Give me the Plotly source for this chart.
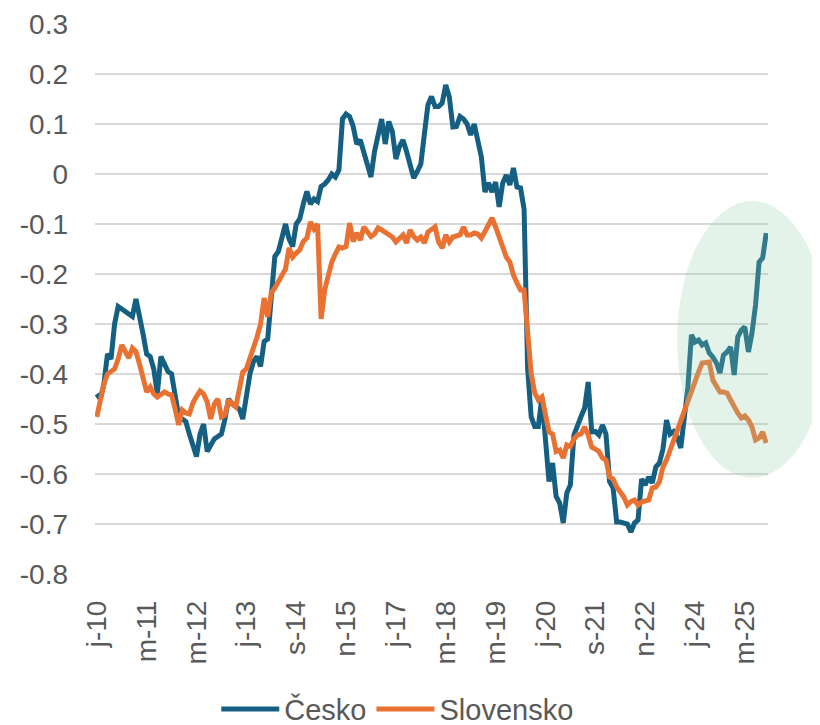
import pandas as pd
import plotly.graph_objects as go

# mesicni rada od ledna 2010
months = pd.date_range("2010-01-01", periods=189, freq="MS").strftime("%Y-%m").tolist()

tick_labels = ["j-10", "m-11", "m-12", "j-13", "s-14", "n-15", "j-17",
               "m-18", "m-19", "j-20", "s-21", "n-22", "j-24", "m-25"]

y_ticks = [0.3, 0.2, 0.1, 0.0, -0.1, -0.2, -0.3, -0.4, -0.5, -0.6, -0.7, -0.8]
y_tick_labels = ["0.3", "0.2", "0.1", "0", "-0.1", "-0.2", "-0.3", "-0.4",
                 "-0.5", "-0.6", "-0.7", "-0.8"]

cesko = [
    -0.44, -0.45, -0.42, -0.36, -0.37, -0.30, -0.265, -0.27, -0.275, -0.28,
    -0.285, -0.25, -0.28, -0.32, -0.36, -0.365, -0.39, -0.44, -0.365, -0.38,
    -0.395, -0.40, -0.44, -0.485, -0.49, -0.495, -0.52, -0.545, -0.565, -0.52,
    -0.50, -0.555, -0.54, -0.53, -0.525, -0.52, -0.49, -0.45, -0.46, -0.465,
    -0.47, -0.49, -0.44, -0.40, -0.375, -0.365, -0.385, -0.335, -0.33, -0.25,
    -0.165, -0.155, -0.13, -0.10, -0.13, -0.145, -0.10, -0.09, -0.06, -0.035,
    -0.06, -0.05, -0.055, -0.025, -0.02, -0.012, 0.0, -0.006, 0.008, 0.11,
    0.12, 0.115, 0.095, 0.06, 0.068, 0.045, 0.02, -0.006, 0.045, 0.08,
    0.11, 0.06, 0.105, 0.085, 0.03, 0.055, 0.068, 0.045, 0.02, -0.008,
    0.005, 0.02, 0.08, 0.138, 0.155, 0.135, 0.135, 0.142, 0.178, 0.154,
    0.094, 0.095, 0.115, 0.11, 0.10, 0.078, 0.10, 0.064, 0.034, -0.036,
    -0.018, -0.036, -0.016, -0.066, -0.018, -0.002, -0.022, 0.012, -0.026, -0.028,
    -0.07, -0.39, -0.486, -0.505, -0.505, -0.446, -0.53, -0.615, -0.578, -0.645,
    -0.658, -0.698, -0.638, -0.622, -0.522, -0.50, -0.485, -0.468, -0.416, -0.516,
    -0.515, -0.522, -0.502, -0.52, -0.615, -0.628, -0.696, -0.696, -0.698, -0.70,
    -0.716, -0.698, -0.692, -0.61, -0.622, -0.606, -0.618, -0.586, -0.578, -0.55,
    -0.492, -0.52, -0.515, -0.526, -0.548, -0.492, -0.426, -0.322, -0.336, -0.332,
    -0.342, -0.338, -0.358, -0.366, -0.378, -0.398, -0.362, -0.356, -0.346, -0.402,
    -0.326, -0.312, -0.306, -0.356, -0.318, -0.262, -0.176, -0.168, -0.118,
]

slovensko = [
    -0.486, -0.446, -0.42, -0.40, -0.395, -0.39, -0.37, -0.342, -0.355, -0.368,
    -0.348, -0.355, -0.38, -0.41, -0.436, -0.426, -0.44, -0.446, -0.44, -0.436,
    -0.44, -0.442, -0.47, -0.502, -0.472, -0.478, -0.48, -0.458, -0.445, -0.434,
    -0.44, -0.456, -0.49, -0.46, -0.45, -0.486, -0.482, -0.452, -0.46, -0.466,
    -0.432, -0.396, -0.39, -0.37, -0.346, -0.326, -0.30, -0.248, -0.286, -0.238,
    -0.228, -0.215, -0.198, -0.19, -0.148, -0.166, -0.158, -0.152, -0.135, -0.128,
    -0.096, -0.11, -0.10, -0.29, -0.232, -0.198, -0.176, -0.16, -0.146, -0.148,
    -0.145, -0.098, -0.135, -0.118, -0.132, -0.106, -0.115, -0.125, -0.12, -0.108,
    -0.112, -0.116, -0.12, -0.126, -0.136, -0.128, -0.122, -0.138, -0.112, -0.125,
    -0.132, -0.126, -0.138, -0.116, -0.11, -0.106, -0.136, -0.148, -0.122, -0.136,
    -0.126, -0.125, -0.122, -0.106, -0.122, -0.122, -0.118, -0.12, -0.128, -0.115,
    -0.10, -0.088, -0.106, -0.128, -0.146, -0.166, -0.176, -0.202, -0.218, -0.232,
    -0.232, -0.33, -0.40, -0.438, -0.452, -0.446, -0.48, -0.516, -0.52, -0.555,
    -0.552, -0.568, -0.542, -0.545, -0.53, -0.522, -0.52, -0.506, -0.522, -0.546,
    -0.55, -0.555, -0.568, -0.572, -0.606, -0.61, -0.626, -0.636, -0.646, -0.662,
    -0.655, -0.652, -0.662, -0.656, -0.654, -0.652, -0.628, -0.626, -0.616, -0.586,
    -0.572, -0.552, -0.535, -0.515, -0.496, -0.475, -0.45, -0.436, -0.416, -0.396,
    -0.378, -0.376, -0.376, -0.412, -0.422, -0.436, -0.436, -0.438, -0.452, -0.468,
    -0.478, -0.488, -0.484, -0.492, -0.506, -0.532, -0.528, -0.516, -0.538,
]

fig = go.Figure()
fig.add_trace(go.Scatter(x=months, y=cesko, mode="lines", name="Česko",
                         line=dict(color="#156082", width=5)))
fig.add_trace(go.Scatter(x=months, y=slovensko, mode="lines", name="Slovensko",
                         line=dict(color="#E97132", width=5)))

# zelena elipsa kolem posledniho obdobi
fig.add_shape(type="circle", xref="paper", yref="paper",
              x0=0.865, x1=1.088, y0=0.175, y1=0.678,
              fillcolor="rgba(146,208,170,0.25)", line=dict(width=0), layer="above")

# stranka ma 8px okraj, proto 812x717
fig.update_layout(
    width=812, height=717,
    margin=dict(l=87, r=52, t=16, b=151),
    plot_bgcolor="white", paper_bgcolor="white",
    font=dict(family="Liberation Sans, Arial, sans-serif", size=28, color="#595959"),
    showlegend=True,
    legend=dict(orientation="h", xref="container", yref="container",
                x=0.48, xanchor="center", y=0.022, yanchor="middle",
                itemwidth=58, font=dict(size=29, color="#595959")),
    xaxis=dict(type="category", range=[-0.5, len(months) - 0.5],
               tickvals=months[::14], ticktext=tick_labels, tickangle=-90,
               ticklabelstandoff=20, automargin=False,
               showgrid=False, showline=False, ticks="", zeroline=False),
    yaxis=dict(range=[-0.8, 0.3], tickvals=y_ticks, ticktext=y_tick_labels,
               ticklabelstandoff=26, automargin=False,
               showgrid=True, gridcolor="#D9D9D9", gridwidth=2,
               zeroline=False, showline=False, ticks=""),
)

fig.write_html("out.html")
